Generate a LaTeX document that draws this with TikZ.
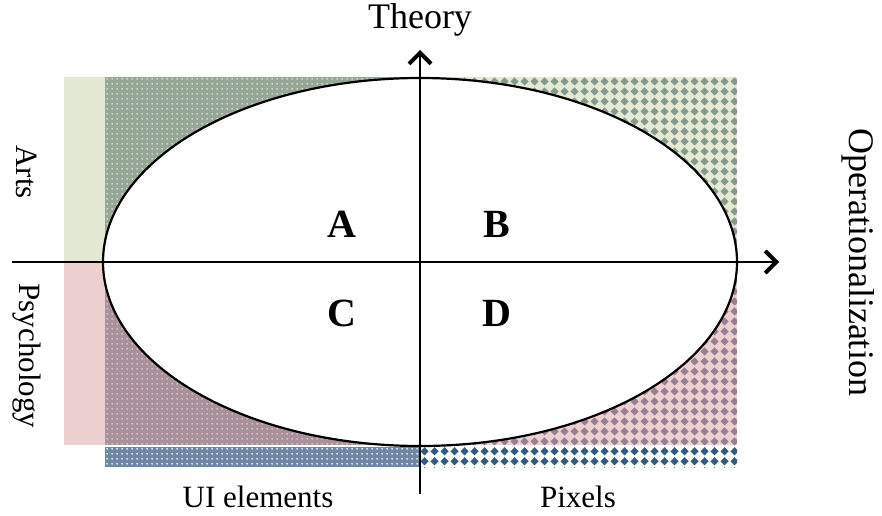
\documentclass[tikz,border=0pt]{standalone}
\usepackage{fontspec}
\setmainfont{Liberation Serif}
\usetikzlibrary{arrows.meta,patterns,shapes.geometric}
\pgfdeclarepatternformonly{finedots}{\pgfpointorigin}{\pgfqpoint{5pt}{5pt}}{\pgfqpoint{5pt}{5pt}}{%
  \pgfpathcircle{\pgfqpoint{2.5pt}{2.5pt}}{1.1pt}\pgfusepath{fill}}
\pgfdeclarepatternformonly{bigdiamonds}{\pgfpointorigin}{\pgfqpoint{10pt}{10pt}}{\pgfqpoint{10pt}{10pt}}{%
  \pgfpathmoveto{\pgfqpoint{5pt}{0.6pt}}\pgfpathlineto{\pgfqpoint{9.4pt}{5pt}}%
  \pgfpathlineto{\pgfqpoint{5pt}{9.4pt}}\pgfpathlineto{\pgfqpoint{0.6pt}{5pt}}\pgfpathclose\pgfusepath{fill}}
\definecolor{artsg}{HTML}{E4E9D4}
\definecolor{psyp}{HTML}{ECCFCF}
\definecolor{tlbase}{HTML}{97A797}
\definecolor{trdia}{HTML}{84988C}
\definecolor{blbase}{HTML}{A9919C}
\definecolor{brdia}{HTML}{957F90}
\definecolor{bluebase}{HTML}{6F87A6}
\definecolor{bluedia}{HTML}{2E5A86}
\tikzset{
  axis/.style={line width=2pt, -{Straight Barb[length=11pt,width=22pt,line width=4pt]}},
  quad/.style={font=\fontsize{40}{40}\selectfont\bfseries, inner sep=0pt},
  lab/.style={font=\fontsize{31}{31}\selectfont, inner sep=0pt},
  biglab/.style={font=\fontsize{36}{36}\selectfont, inner sep=0pt},
}
\begin{document}
\begin{tikzpicture}[x=1pt,y=-1pt]
\useasboundingbox (0,0) rectangle (882,515);
% left strips
\fill[artsg] (64,77) rectangle (105,262);
\fill[psyp] (64,262) rectangle (105,445);
% top-left fine
\fill[tlbase] (105,77) rectangle (420,262);
\fill[pattern=finedots, pattern color=artsg] (105,77) rectangle (420,262);
% top-right diamonds
\fill[artsg] (420,77) rectangle (737,262);
\fill[pattern=bigdiamonds, pattern color=trdia] (420,77) rectangle (737,262);
% bottom-left fine
\fill[blbase] (105,262) rectangle (420,445);
\fill[pattern=finedots, pattern color=psyp] (105,262) rectangle (420,445);
% bottom-right diamonds
\fill[psyp] (420,262) rectangle (737,445);
\fill[pattern=bigdiamonds, pattern color=brdia] (420,262) rectangle (737,445);
% blue strip
\fill[bluebase] (105,447) rectangle (420,467);
\fill[pattern=finedots, pattern color=white] (105,447) rectangle (420,467);
\fill[pattern=bigdiamonds, pattern color=bluedia] (420,447) rectangle (737,467);
% ellipse
\node[draw, line width=2.2pt, fill=white, ellipse, minimum width=634pt, minimum height=368pt, inner sep=0pt] (ell) at (420,262) {};
% axes
\coordinate (xs) at (12,262);
\coordinate (xe) at (779,262);
\coordinate (ys) at (420,494);
\coordinate (ye) at (420,50);
\draw[axis] (xs) -- (xe);
\draw[axis] (ys) -- (ye);
% labels
\node[biglab] (theory) at (420,20) {Theory};
\node[biglab, rotate=-90] (oper) at (858,262) {Operationalization};
\node[lab, rotate=-90] (arts) at (27,172) {Arts};
\node[lab, rotate=-90] (psy) at (27,356) {Psychology};
\node[lab] (ui) at (258,497) {UI elements};
\node[lab] (pix) at (578,497) {Pixels};
\node[quad] (A) at (342,224) {A};
\node[quad] (B) at (497,224) {B};
\node[quad] (C) at (342,313) {C};
\node[quad] (D) at (497,313) {D};
\end{tikzpicture}
\end{document}
